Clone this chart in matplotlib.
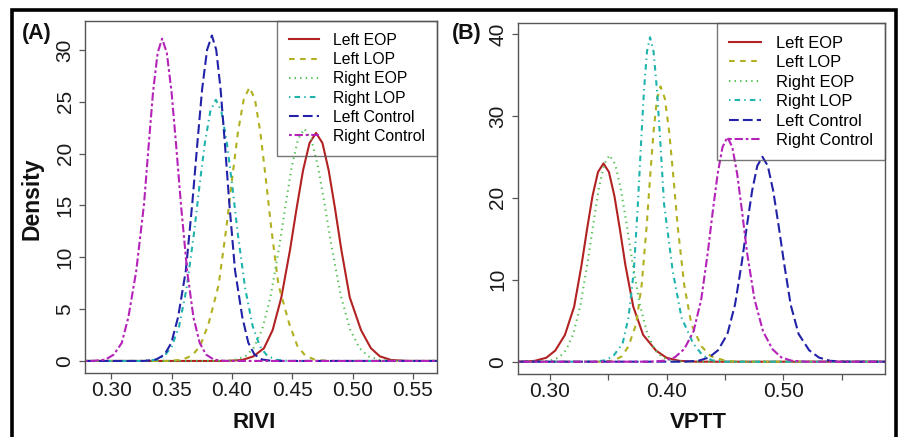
import matplotlib
matplotlib.use('Agg')
import matplotlib.pyplot as plt
import matplotlib.patches as patches

plt.rcParams['font.family'] = ['Liberation Sans', 'DejaVu Sans']
plt.rcParams['lines.scale_dashes'] = False

#%% Data (density curves)

groups = ['Left EOP', 'Left LOP', 'Right EOP', 'Right LOP', 'Left Control', 'Right Control']

# (A) RIVI
rivi_left_eop_x = [0.278, 0.3947, 0.4083, 0.4177, 0.4265, 0.4337, 0.4409, 0.4481, 0.4535, 0.4589, 0.4643, 0.4697,
                   0.4750, 0.4802, 0.4855, 0.4907, 0.4977, 0.5070, 0.5152, 0.5227, 0.5322, 0.5457, 0.570]
rivi_left_eop_y = [0, 0, 0.09, 0.44, 1.23, 2.98, 6.12, 10.71, 14.67, 18.38, 21.03, 22.0,
                   21.03, 18.38, 14.67, 10.71, 6.12, 2.98, 1.23, 0.44, 0.09, 0, 0]
rivi_left_lop_x = [0.278, 0.3465, 0.3584, 0.3669, 0.3737, 0.3805, 0.3889, 0.3953, 0.4001, 0.4049, 0.4097, 0.4145,
                   0.4190, 0.4235, 0.4280, 0.4325, 0.4385, 0.4475, 0.4541, 0.4607, 0.4690, 0.4805, 0.570]
rivi_left_lop_y = [0, 0, 0.11, 0.52, 1.48, 3.57, 7.34, 12.85, 17.61, 22.05, 25.24, 26.4,
                   25.24, 22.05, 17.61, 12.85, 7.34, 3.57, 1.48, 0.52, 0.11, 0, 0]
rivi_right_eop_x = [0.278, 0.3900, 0.4022, 0.4110, 0.4180, 0.4250, 0.4320, 0.4390, 0.4443, 0.4495, 0.4548, 0.4600,
                    0.4657, 0.4714, 0.4771, 0.4828, 0.4904, 0.4980, 0.5056, 0.5132, 0.5227, 0.5360, 0.570]
rivi_right_eop_y = [0, 0, 0.10, 0.44, 1.26, 3.03, 6.23, 10.90, 14.94, 18.71, 21.41, 22.4,
                    21.41, 18.71, 14.94, 10.90, 6.23, 3.03, 1.26, 0.44, 0.10, 0, 0]
rivi_right_lop_x = [0.278, 0.3258, 0.3364, 0.3440, 0.3501, 0.3562, 0.3623, 0.3684, 0.3729, 0.3775, 0.3820, 0.3866,
                    0.3912, 0.3957, 0.4003, 0.4048, 0.4109, 0.4170, 0.4231, 0.4292, 0.4368, 0.4474, 0.570]
rivi_right_lop_y = [0, 0, 0.11, 0.50, 1.41, 3.41, 7.01, 12.27, 16.81, 21.05, 24.09, 25.2,
                    24.09, 21.05, 16.81, 12.27, 7.01, 3.41, 1.41, 0.50, 0.11, 0, 0]
rivi_left_ctrl_x = [0.278, 0.3273, 0.3371, 0.3441, 0.3497, 0.3553, 0.3617, 0.3671, 0.3712, 0.3752, 0.3793, 0.3833,
                    0.3869, 0.3905, 0.3941, 0.3977, 0.4025, 0.4085, 0.4135, 0.4186, 0.4249, 0.4337, 0.570]
rivi_left_ctrl_y = [0, 0, 0.14, 0.62, 1.76, 4.25, 8.73, 15.29, 20.94, 26.23, 30.02, 31.4,
                    30.02, 26.23, 20.94, 15.29, 8.73, 4.25, 1.76, 0.62, 0.14, 0, 0]
rivi_right_ctrl_x = [0.278, 0.2840, 0.2950, 0.3020, 0.3085, 0.3140, 0.3205, 0.3270, 0.3308, 0.3345, 0.3383, 0.3420,
                     0.3459, 0.3498, 0.3537, 0.3576, 0.3628, 0.3680, 0.3732, 0.3784, 0.3849, 0.3940, 0.570]
rivi_right_ctrl_y = [0, 0, 0.13, 0.62, 1.74, 4.21, 8.65, 15.14, 20.74, 25.98, 29.73, 31.1,
                     29.73, 25.98, 20.74, 15.14, 8.65, 4.21, 1.74, 0.62, 0.13, 0, 0]

# (B) VPTT
vptt_left_eop_x = [0.2723, 0.2738, 0.2868, 0.2968, 0.3045, 0.3128, 0.3207, 0.3270, 0.3317, 0.3364, 0.3411, 0.3458,
                   0.3505, 0.3552, 0.3599, 0.3646, 0.3713, 0.3798, 0.3908, 0.3998, 0.4108, 0.4258, 0.587]
vptt_left_eop_y = [0, 0, 0.10, 0.48, 1.36, 3.27, 6.73, 11.78, 16.14, 20.21, 23.14, 24.2,
                   23.14, 20.21, 16.14, 11.78, 6.73, 3.27, 1.36, 0.48, 0.10, 0, 0]
vptt_left_lop_x = [0.2723, 0.3447, 0.3547, 0.3617, 0.3672, 0.3737, 0.3785, 0.3827, 0.3857, 0.3887, 0.3917, 0.3947,
                   0.3984, 0.4021, 0.4058, 0.4095, 0.4150, 0.4212, 0.4297, 0.4377, 0.4497, 0.4597, 0.587]
vptt_left_lop_y = [0, 0, 0.14, 0.67, 1.88, 4.55, 9.34, 16.36, 22.41, 28.07, 32.12, 33.6,
                   32.12, 28.07, 22.41, 16.36, 9.34, 4.55, 1.88, 0.67, 0.14, 0, 0]
vptt_right_eop_x = [0.2723, 0.2890, 0.2998, 0.3076, 0.3138, 0.3200, 0.3262, 0.3324, 0.3371, 0.3417, 0.3464, 0.3510,
                    0.3559, 0.3607, 0.3656, 0.3704, 0.3769, 0.3834, 0.3899, 0.3964, 0.4045, 0.4158, 0.587]
vptt_right_eop_y = [0, 0, 0.11, 0.50, 1.41, 3.41, 7.01, 12.27, 16.81, 21.05, 24.09, 25.2,
                    24.09, 21.05, 16.81, 12.27, 7.01, 3.41, 1.41, 0.50, 0.11, 0, 0]
vptt_right_lop_x = [0.2723, 0.3377, 0.3477, 0.3547, 0.3622, 0.3672, 0.3718, 0.3753, 0.3779, 0.3805, 0.3831, 0.3857,
                    0.3887, 0.3917, 0.3947, 0.3977, 0.4052, 0.4127, 0.4227, 0.4307, 0.4387, 0.4497, 0.587]
vptt_right_lop_y = [0, 0, 0.17, 0.78, 2.22, 5.36, 11.01, 19.28, 26.41, 33.08, 37.86, 39.6,
                    37.86, 33.08, 26.41, 19.28, 11.01, 5.36, 2.22, 0.78, 0.17, 0, 0]
vptt_left_ctrl_x = [0.2723, 0.4150, 0.4270, 0.4360, 0.4440, 0.4520, 0.4585, 0.4644, 0.4688, 0.4732, 0.4776, 0.4820,
                    0.4866, 0.4912, 0.4958, 0.5004, 0.5062, 0.5130, 0.5220, 0.5305, 0.5400, 0.5520, 0.587]
vptt_left_ctrl_y = [0, 0, 0.11, 0.50, 1.40, 3.38, 6.95, 12.17, 16.68, 20.88, 23.90, 25.0,
                    23.90, 20.88, 16.68, 12.17, 6.95, 3.38, 1.40, 0.50, 0.11, 0, 0]
vptt_right_ctrl_x = [0.2723, 0.3860, 0.3980, 0.4070, 0.4150, 0.4230, 0.4296, 0.4352, 0.4394, 0.4436, 0.4478, 0.4520,
                     0.4562, 0.4604, 0.4646, 0.4688, 0.4752, 0.4825, 0.4905, 0.4980, 0.5070, 0.5190, 0.587]
vptt_right_ctrl_y = [0, 0, 0.12, 0.54, 1.54, 3.71, 7.62, 13.34, 18.28, 22.89, 26.19, 27.4,
                     26.19, 22.89, 18.28, 13.34, 7.62, 3.71, 1.54, 0.54, 0.12, 0, 0]

rivi_ticks = [0.30, 0.35, 0.40, 0.45, 0.50, 0.55]
rivi_yticks = [0, 5, 10, 15, 20, 25, 30]
vptt_ticks = [0.30, 0.35, 0.40, 0.45, 0.50, 0.55]
vptt_ticklabels = ['0.30', '', '0.40', '', '0.50', '']
vptt_yticks = [0, 10, 20, 30, 40]

#%% Styles

colors = ['#B22222', '#B0B020', '#55C155', '#1FB3AD', '#2222A8', '#B522B8']
styles = ['-', (0, (4, 4)), (0, (1, 3)), (0, (1, 3, 4, 3)), (0, (7, 3)), (0, (2, 2, 6, 2))]
edge = '#555555'


def style_axes(ax):
    for s in ax.spines.values():
        s.set_color(edge)
        s.set_linewidth(1.0)
    ax.tick_params(direction='out', length=4.5, width=0.9, color=edge, labelsize=15, labelcolor='#1a1a1a')
    ax.tick_params(axis='x', pad=1.5)
    ax.tick_params(axis='y', pad=3.0, labelrotation=90)
    for l in ax.get_yticklabels():
        l.set_va('center')


def add_legend(ax, fs):
    leg = ax.legend(loc='upper right', borderaxespad=0, fontsize=fs, frameon=True, fancybox=False,
                    handlelength=1.9, handletextpad=0.9, labelspacing=0.27, borderpad=0.75)
    leg.get_frame().set_facecolor('none')
    leg.get_frame().set_edgecolor(edge)
    leg.get_frame().set_linewidth(1.0)


fig = plt.figure(figsize=(9, 4.37), dpi=100)

#%% Panel A
axA = fig.add_axes([0.0944, 0.1465, 0.3911, 0.8054])
rivi_x = [rivi_left_eop_x, rivi_left_lop_x, rivi_right_eop_x, rivi_right_lop_x, rivi_left_ctrl_x, rivi_right_ctrl_x]
rivi_y = [rivi_left_eop_y, rivi_left_lop_y, rivi_right_eop_y, rivi_right_lop_y, rivi_left_ctrl_y, rivi_right_ctrl_y]
for xs, ys, c, ls, g in zip(rivi_x, rivi_y, colors, styles, groups):
    axA.plot(xs, ys, color=c, linestyle=ls, lw=1.5, label=g)
axA.set_xlim(0.278, 0.570)
axA.set_ylim(-1.16, 32.8)
axA.set_xticks(rivi_ticks)
axA.set_xticklabels(['%.2f' % t for t in rivi_ticks])
axA.set_yticks(rivi_yticks)
style_axes(axA)
add_legend(axA, 11.3)

#%% Panel B
axB = fig.add_axes([0.5752, 0.1442, 0.4081, 0.8025])
vptt_x = [vptt_left_eop_x, vptt_left_lop_x, vptt_right_eop_x, vptt_right_lop_x, vptt_left_ctrl_x, vptt_right_ctrl_x]
vptt_y = [vptt_left_eop_y, vptt_left_lop_y, vptt_right_eop_y, vptt_right_lop_y, vptt_left_ctrl_y, vptt_right_ctrl_y]
for xs, ys, c, ls, g in zip(vptt_x, vptt_y, colors, styles, groups):
    axB.plot(xs, ys, color=c, linestyle=ls, lw=1.5, label=g)
axB.set_xlim(0.2723, 0.587)
axB.set_ylim(-1.5, 41.3)
axB.set_xticks(vptt_ticks)
axB.set_xticklabels(vptt_ticklabels)
axB.set_yticks(vptt_yticks)
style_axes(axB)
add_legend(axB, 11.9)

#%% Labels
bold = dict(fontweight='bold', color='#111111')
fig.text(32 / 900, 1 - 199 / 437, 'Density', rotation=90, ha='center', va='center', fontsize=16.5, **bold)
fig.text(254 / 900, 1 - 428 / 437, 'RIVI', ha='center', va='baseline', fontsize=16, **bold)
fig.text(698 / 900, 1 - 428 / 437, 'VPTT', ha='center', va='baseline', fontsize=16, **bold)
fig.text(22 / 900, 1 - 39 / 437, '(A)', ha='left', va='baseline', fontsize=15.5, **bold)
fig.text(452 / 900, 1 - 39 / 437, '(B)', ha='left', va='baseline', fontsize=15.5, **bold)

# outer frame
rect = patches.Rectangle((12 / 900, -0.05), (896 - 12) / 900, 1.05 - 9.7 / 437, transform=fig.transFigure,
                         fill=False, lw=2.6, ec='black', clip_on=False)
fig.patches.append(rect)

fig.savefig('out.png', dpi=100)
